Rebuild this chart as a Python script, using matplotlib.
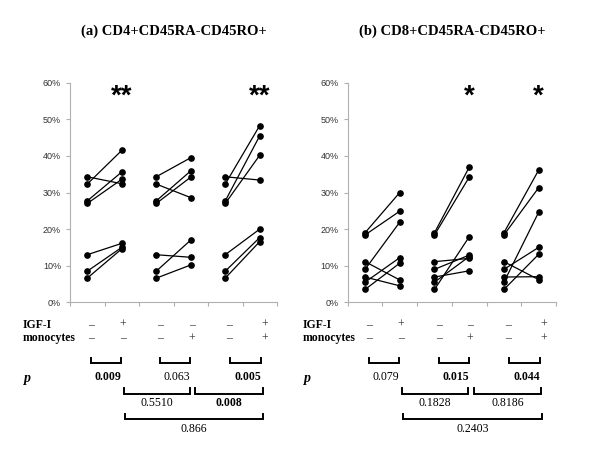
"""
plot.py

Paired memory T-cell percentages with and without IGF-I / monocytes.
"""

import matplotlib

matplotlib.use("Agg")

import matplotlib.pyplot as plt
from matplotlib import transforms
from matplotlib.ticker import FuncFormatter, MultipleLocator


FIG_W, FIG_H = 600, 474

# per donor, percent of cells; baseline is shared by the three comparisons
CD4_BASELINE = [34.3, 32.3, 27.7, 27.0, 13.0, 8.5, 6.6]
CD4_IGF = [32.4, 41.5, 35.6, 33.6, 16.1, 15.0, 14.6]
CD4_MONO = [39.5, 28.6, 35.9, 34.2, 12.3, 17.0, 10.2]
CD4_BOTH = [33.4, 48.3, 45.5, 40.2, 20.0, 17.7, 16.6]

CD8_BASELINE = [19.0, 18.4, 11.1, 9.0, 6.9, 5.5, 3.5]
CD8_IGF = [30.0, 24.9, 6.1, 21.9, 4.5, 12.2, 10.7]
CD8_MONO = [36.9, 34.2, 12.0, 12.9, 8.6, 12.5, 17.9]
CD8_BOTH = [36.1, 31.3, 6.2, 15.0, 7.0, 24.6, 13.1]

IGF_SIGNS = ["\u2013", "+", "\u2013", "\u2013", "\u2013", "+"]
MONO_SIGNS = ["\u2013", "\u2013", "\u2013", "+", "\u2013", "+"]

CD4_STARS = ["**", "", "**"]
CD4_P_PAIRED = ["0.009", "0.063", "0.005"]
CD4_P_PAIRED_BOLD = [True, False, True]
CD4_P_BETWEEN = ["0.5510", "0.008"]
CD4_P_BETWEEN_BOLD = [False, True]
CD4_P_OVERALL = "0.866"

CD8_STARS = ["", "*", "*"]
CD8_P_PAIRED = ["0.079", "0.015", "0.044"]
CD8_P_PAIRED_BOLD = [False, True, True]
CD8_P_BETWEEN = ["0.1828", "0.8186"]
CD8_P_BETWEEN_BOLD = [False, False]
CD8_P_OVERALL = "0.2403"

AXIS_GREY = "#b0b0b0"
SERIF = "Liberation Serif"
SANS = "Liberation Sans"

# layout of the table under the axes, in category units
SIGN_X = [0.12, 1.03, 2.12, 3.03, 4.12, 5.15]
PAIR_BRACKETS = [(0.12, 0.97), (2.12, 2.98), (4.15, 5.05)]
BETWEEN_BRACKETS = [(1.06, 2.97), (3.13, 5.08)]
OVERALL_BRACKET = (1.08, 5.1)


def fy(a_px):
    """Figure fraction for a pixel row measured from the top."""
    return 1 - a_px / FIG_H


def bracket(a_axis, a_trans, a_x0, a_x1, a_top, a_bottom):
    a_axis.plot(
        [a_x0, a_x0, a_x1, a_x1],
        [fy(a_top), fy(a_bottom), fy(a_bottom), fy(a_top)],
        color="black",
        linewidth=1.4,
        transform=a_trans,
        clip_on=False,
        solid_joinstyle="miter",
    )


def draw_panel(a_axis, a_title, a_baseline, a_treated, a_stars, a_paired, a_paired_bold,
               a_between, a_between_bold, a_overall):
    for group, values in enumerate(a_treated):
        x0, x1 = 2 * group, 2 * group + 1
        for before, after in zip(a_baseline, values):
            a_axis.plot([x0, x1], [before, after], color="black", linewidth=0.9,
                        marker="o", markersize=3.8, clip_on=False, zorder=3)
        if a_stars[group]:
            a_axis.text(x1, 56.2, a_stars[group], ha="center", va="center",
                        fontsize=20, fontweight="bold", family=SANS)

    a_axis.set_xlim(-0.5, 5.5)
    a_axis.set_ylim(0, 60)
    a_axis.yaxis.set_major_locator(MultipleLocator(10))
    a_axis.yaxis.set_major_formatter(FuncFormatter(lambda v, _: f"{v:.0f}%"))
    a_axis.set_xticks([x + 0.5 for x in range(-1, 6)])
    a_axis.set_xticklabels([])
    a_axis.tick_params(axis="both", colors=AXIS_GREY, length=3, width=0.8,
                       labelcolor="#333333", labelsize=6.5)
    for label in a_axis.get_yticklabels():
        label.set_family(SANS)
    for side in ("top", "right"):
        a_axis.spines[side].set_visible(False)
    for side in ("left", "bottom"):
        a_axis.spines[side].set_color(AXIS_GREY)
        a_axis.spines[side].set_linewidth(0.8)

    trans = transforms.blended_transform_factory(a_axis.transData, a_axis.figure.transFigure)
    a_axis.text(2.5, fy(31), a_title, transform=trans, ha="center", va="center",
                fontsize=10.5, fontweight="bold", family=SERIF)

    for x, igf, mono in zip(SIGN_X, IGF_SIGNS, MONO_SIGNS):
        a_axis.text(x, fy(325), igf, transform=trans, ha="center", va="center",
                    fontsize=8.5, family=SERIF, color="#333333")
        a_axis.text(x, fy(338.5), mono, transform=trans, ha="center", va="center",
                    fontsize=8.5, family=SERIF, color="#333333")

    for (x0, x1), text, bold in zip(PAIR_BRACKETS, a_paired, a_paired_bold):
        bracket(a_axis, trans, x0, x1, 357.5, 362.5)
        a_axis.text((x0 + x1) / 2 + 0.05, fy(377.5), text, transform=trans, ha="center",
                    va="center", fontsize=8.5, family=SERIF,
                    fontweight="bold" if bold else "normal")

    for (x0, x1), text, bold in zip(BETWEEN_BRACKETS, a_between, a_between_bold):
        bracket(a_axis, trans, x0, x1, 388, 393.5)
        a_axis.text((x0 + x1) / 2, fy(403.5), text, transform=trans, ha="center",
                    va="center", fontsize=8.5, family=SERIF,
                    fontweight="bold" if bold else "normal")

    x0, x1 = OVERALL_BRACKET
    bracket(a_axis, trans, x0, x1, 413.5, 418.5)
    a_axis.text((x0 + x1) / 2, fy(429), a_overall, transform=trans, ha="center",
                va="center", fontsize=8.5, family=SERIF)


def label_rows(a_figure, a_left_px):
    for text, row in (("IGF-I", 325), ("monocytes", 338.5)):
        a_figure.text(a_left_px / FIG_W, fy(row), text, ha="left", va="center",
                      fontsize=8.5, fontweight="bold", family=SERIF)
    a_figure.text((a_left_px + 1) / FIG_W, fy(378.5), "p", ha="left", va="center",
                  fontsize=10, fontweight="bold", style="italic", family=SERIF)


figure = plt.figure(figsize=(FIG_W / 100, FIG_H / 100), dpi=100)
bottom = fy(302.3)
height = (302.3 - 82.7) / FIG_H
left_axis = figure.add_axes([70 / FIG_W, bottom, 207 / FIG_W, height])
right_axis = figure.add_axes([347.7 / FIG_W, bottom, 208.3 / FIG_W, height])

draw_panel(left_axis, "(a) CD4+CD45RA-CD45RO+", CD4_BASELINE,
           [CD4_IGF, CD4_MONO, CD4_BOTH], CD4_STARS, CD4_P_PAIRED, CD4_P_PAIRED_BOLD,
           CD4_P_BETWEEN, CD4_P_BETWEEN_BOLD, CD4_P_OVERALL)
draw_panel(right_axis, "(b) CD8+CD45RA-CD45RO+", CD8_BASELINE,
           [CD8_IGF, CD8_MONO, CD8_BOTH], CD8_STARS, CD8_P_PAIRED, CD8_P_PAIRED_BOLD,
           CD8_P_BETWEEN, CD8_P_BETWEEN_BOLD, CD8_P_OVERALL)

label_rows(figure, 22.5)
label_rows(figure, 302.5)

figure.savefig("out.png", dpi=100, facecolor="white")
plt.close(figure)
